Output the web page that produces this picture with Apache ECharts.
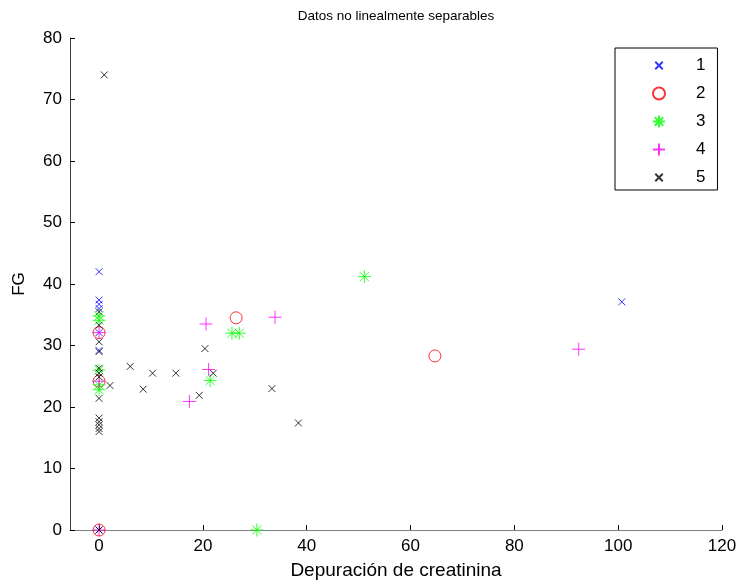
<!DOCTYPE html>
<html>
<head>
<meta charset="utf-8">
<script src="https://cdn.jsdelivr.net/npm/echarts@6/dist/echarts.min.js"></script>
<style>html,body{margin:0;padding:0;background:#fff}#c{width:740px;height:582px}</style>
</head>
<body>
<div id="c"></div>
<script>
// Class 1 (blue x)
const c1x = [0, 0, 0, 0, 0, 0, 0, 100.7];
const c1y = [42, 37.4, 36.7, 36, 32.1, 29.2, 0, 37.1];
// Class 2 (red circles)
const c2x = [0, 0, 0, 26.4, 64.7];
const c2y = [32.1, 24.2, 0, 34.5, 28.3];
// Class 3 (green asterisks)
const c3x = [0, 0, 0, 0, 0, 25.6, 27, 21.4, 51.1, 30.4];
const c3y = [34.8, 34.1, 26, 23.6, 22.8, 32, 32, 24.3, 41.2, 0];
// Class 4 (magenta plus)
const c4x = [0, 0, 0, 20.6, 21.1, 17.4, 33.9, 92.4];
const c4y = [32.1, 24.2, 0, 33.5, 26.1, 20.9, 34.6, 29.4];
// Class 5 (black x)
const c5x = [1, 0, 0, 0, 0, 0, 0, 0, 0, 0, 0, 0, 0, 0, 0, 2.1, 6, 10.3, 14.8, 8.5, 20.4, 22, 19.3, 33.3, 38.4];
const c5y = [74, 35.5, 33.3, 30.6, 29, 26.3, 25.5, 24.9, 21.4, 18.2, 17.6, 17.1, 16.5, 16, 0, 23.5, 26.6, 25.5, 25.5, 22.9, 29.5, 25.5, 21.9, 23, 17.4];

const legendNames = ['1', '2', '3', '4', '5'];
const xTicks = [0, 20, 40, 60, 80, 100, 120];

const FONT = 'Liberation Sans, Arial, sans-serif';
const pathX = 'path://M-3,-3M13,13M0,0L10,10M10,0L0,10';
const pathPlus = 'path://M0,5L10,5M5,0L5,10';
const pathStar = 'path://M0,5L10,5M5,0L5,10M1.5,1.5L8.5,8.5M8.5,1.5L1.5,8.5';

function pts(xs, ys) { return xs.map((x, i) => [x, ys[i]]); }

function mk(name, xs, ys, symbol, size, color) {
  return {
    name: name, type: 'scatter', data: pts(xs, ys), symbol: symbol, symbolSize: size,
    clip: false, silent: true,
    itemStyle: { color: 'rgba(0,0,0,0)', borderColor: color, borderWidth: 1 }
  };
}

const chart = echarts.init(document.getElementById('c'), null, { renderer: 'canvas' });
chart.setOption({
  animation: false,
  backgroundColor: '#fff',
  textStyle: { fontFamily: FONT },
  title: {
    text: 'Datos no linealmente separables', left: 391, top: 4, textAlign: 'center',
    textStyle: { fontSize: 13.5, fontWeight: 'normal', color: '#000', fontFamily: FONT }
  },
  grid: { left: 70, right: 18, top: 38, bottom: 52, containLabel: false, outerBoundsMode: 'none' },
  legend: {
    data: legendNames, orient: 'vertical', left: 615, top: 48,
    padding: [9, 12, 4, 37], itemGap: 11, itemWidth: 12, itemHeight: 12,
    borderColor: '#000', borderWidth: 1, backgroundColor: '#fff',
    textStyle: { fontSize: 17, color: '#000', padding: [0, 0, 0, 26], fontFamily: FONT },
    selectedMode: false
  },
  xAxis: {
    type: 'value', min: -5.6, max: 120,
    name: 'Depuración de creatinina', nameLocation: 'middle', nameGap: 31,
    nameTextStyle: { fontSize: 19, color: '#000', fontFamily: FONT },
    axisLine: { show: true, onZero: false, lineStyle: { color: '#808080', width: 1 } },
    axisTick: { show: true, inside: true, length: 5, customValues: xTicks, lineStyle: { color: '#000' } },
    axisLabel: { customValues: xTicks, fontSize: 17, color: '#000', margin: 8, fontFamily: FONT },
    splitLine: { show: false }
  },
  yAxis: {
    type: 'value', min: 0, max: 80, interval: 10,
    name: 'FG', nameLocation: 'middle', nameGap: 42,
    nameTextStyle: { fontSize: 17, color: '#000', fontFamily: FONT },
    axisLine: { show: true, onZero: false, lineStyle: { color: '#404040', width: 1 } },
    axisTick: { show: true, inside: true, length: 5, lineStyle: { color: '#000' } },
    axisLabel: { fontSize: 17, color: '#000', margin: 8, fontFamily: FONT },
    splitLine: { show: false }
  },
  series: [
    mk('1', c1x, c1y, pathX, 11, '#0000ff'),
    mk('2', c2x, c2y, 'circle', 12, '#ff0000'),
    mk('3', c3x, c3y, pathStar, 13, '#00ff00'),
    mk('4', c4x, c4y, pathPlus, 13, '#ff00ff'),
    mk('5', c5x, c5y, pathX, 11, '#000000')
  ]
});
</script>
</body>
</html>
